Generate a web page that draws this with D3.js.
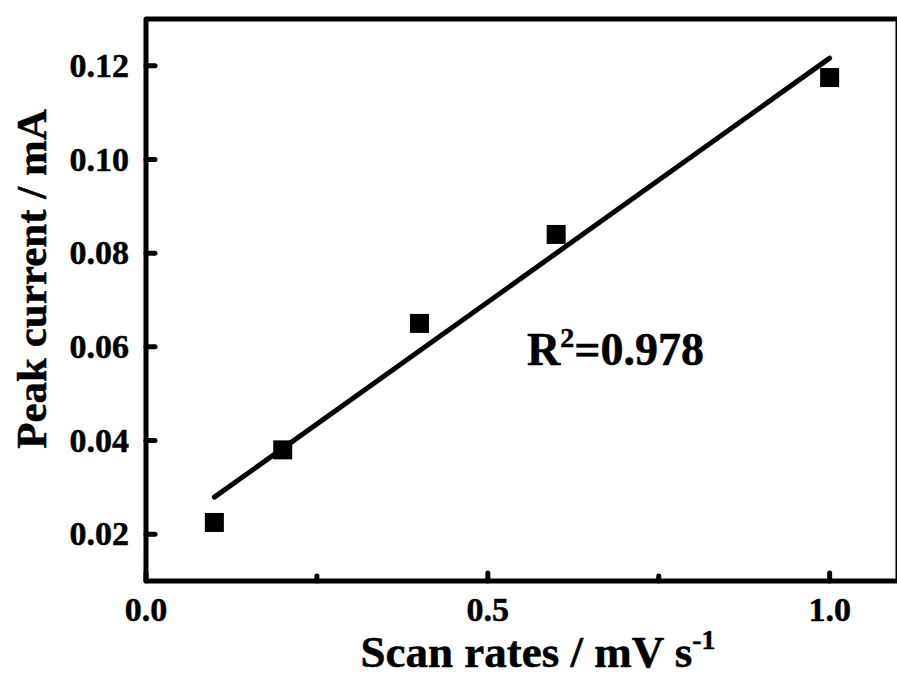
<!DOCTYPE html>
<html>
<head>
<meta charset="utf-8">
<script src="https://cdn.jsdelivr.net/npm/d3@7.9.0/dist/d3.min.js"></script>
<style>
  body { margin: 0; background: #fff; }
  svg text { font-family: "Liberation Serif", "Times New Roman", serif; font-weight: bold; fill: #000; stroke: #000; stroke-width: 0.5px; }
</style>
</head>
<body>
<svg id="chart" width="897" height="677"></svg>
<script>
// data
const scanRates = [0.1, 0.2, 0.4, 0.6, 1.0];
const peakCurrents = [0.0225, 0.038, 0.065, 0.084, 0.1175];
const xTicks = [0.0, 0.5, 1.0];
const xMinorTicks = [0.25, 0.75];
const yTicks = [0.02, 0.04, 0.06, 0.08, 0.10, 0.12];
const rSquared = '0.978';

const svg = d3.select('#chart');

let x = d3.scaleLinear().domain([0, 1.1]).range([146, 898]);
let y = d3.scaleLinear().domain([0.01, 0.13]).range([581, 19]);

// least squares fit of the points
let mx = d3.mean(scanRates), my = d3.mean(peakCurrents);
let sxy = d3.sum(scanRates, (v, i) => (v - mx) * (peakCurrents[i] - my));
let sxx = d3.sum(scanRates, (v) => (v - mx) * (v - mx));
let slope = sxy / sxx;
let intercept = my - slope * mx;
let xFirst = scanRates[0], xLast = scanRates[scanRates.length - 1];

svg.append('line')
  .attr('x1', x(xFirst)).attr('y1', y(intercept + slope * xFirst))
  .attr('x2', x(xLast)).attr('y2', y(intercept + slope * xLast))
  .attr('stroke', '#000').attr('stroke-width', 5).attr('stroke-linecap', 'round');

// square markers
let size = 19;
svg.selectAll('rect.pt')
  .data(scanRates)
  .join('rect')
  .attr('class', 'pt')
  .attr('x', (d) => x(d) - size / 2)
  .attr('y', (d, i) => y(peakCurrents[i]) - size / 2)
  .attr('width', size).attr('height', size)
  .attr('fill', '#000');

// frame
let [x0, x1] = x.range();
let [y0, y1] = y.range();
svg.append('path')
  .attr('d', `M${x0},${y0}V${y1}H${x1}V${y0}Z`)
  .attr('fill', 'none').attr('stroke', '#000').attr('stroke-width', 5)
  .attr('stroke-linejoin', 'round');

// ticks, pointing inward
svg.selectAll('line.ytick')
  .data(yTicks)
  .join('line')
  .attr('x1', x0).attr('x2', x0 + 9)
  .attr('y1', (d) => y(d)).attr('y2', (d) => y(d))
  .attr('stroke', '#000').attr('stroke-width', 5).attr('stroke-linecap', 'round');

svg.selectAll('line.xtick')
  .data(xTicks)
  .join('line')
  .attr('x1', (d) => x(d)).attr('x2', (d) => x(d))
  .attr('y1', y0).attr('y2', y0 - 8)
  .attr('stroke', '#000').attr('stroke-width', 5).attr('stroke-linecap', 'round');

svg.selectAll('line.xminor')
  .data(xMinorTicks)
  .join('line')
  .attr('x1', (d) => x(d)).attr('x2', (d) => x(d))
  .attr('y1', y0).attr('y2', y0 - 5)
  .attr('stroke', '#000').attr('stroke-width', 5).attr('stroke-linecap', 'round');

// tick labels
svg.selectAll('text.ylab')
  .data(yTicks)
  .join('text')
  .attr('x', 129)
  .attr('y', (d) => y(d) + 11)
  .attr('text-anchor', 'end')
  .style('font-size', '34px')
  .text((d) => d3.format('.2f')(d));

svg.selectAll('text.xlab')
  .data(xTicks)
  .join('text')
  .attr('x', (d) => x(d))
  .attr('y', 621)
  .attr('text-anchor', 'middle')
  .style('font-size', '34px')
  .text((d) => d3.format('.1f')(d));

// axis titles
let xTitle = svg.append('text')
  .attr('x', 538).attr('y', 667)
  .attr('text-anchor', 'middle')
  .style('font-size', '45px');
xTitle.append('tspan').text('Scan rates / mV s');
xTitle.append('tspan').attr('dy', -18).style('font-size', '28px').text('-1');

svg.append('text')
  .attr('transform', 'translate(46,279) rotate(-90)')
  .attr('text-anchor', 'middle')
  .style('font-size', '43px')
  .text('Peak current / mA');

// R squared note
let note = svg.append('text')
  .attr('x', 527).attr('y', 365)
  .style('font-size', '46px');
note.append('tspan').text('R');
note.append('tspan').attr('dy', -18).style('font-size', '28px').text('2');
note.append('tspan').attr('dy', 18).text('=' + rSquared);
</script>
</body>
</html>
